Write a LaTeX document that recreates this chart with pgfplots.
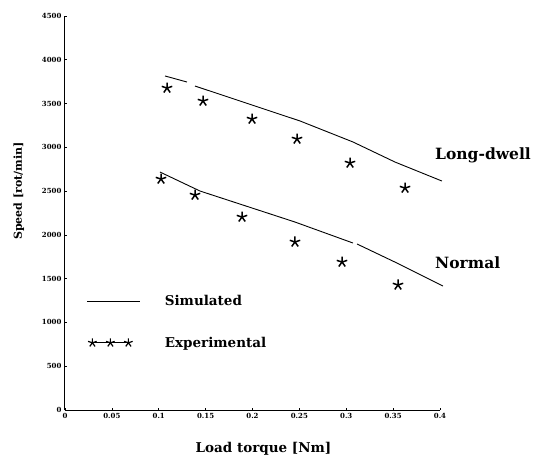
\documentclass[border=0pt]{standalone}
\usepackage{fontspec}
\setmainfont{DejaVu Serif}
\usepackage{pgfplots}
\pgfplotsset{compat=1.18}
\pgfplotsset{
  simlegend/.style={legend image code/.code={\draw[##1] (0pt,0pt) -- (53pt,0pt);}},
  explegend/.style={legend image code/.code={\draw[##1, mark=star, mark size=4.5pt, mark options={line width=1.2pt}] plot coordinates {(5pt,0pt) (23pt,0pt) (41pt,0pt)};}},
}
\begin{document}
\begin{tikzpicture}
\begin{axis}[
  scale only axis, width=375pt, height=394pt,
  xmin=0, xmax=0.4, ymin=0, ymax=4500,
  axis lines=left, axis line style={-, line width=1pt},
  xtick={0,0.05,0.1,0.15,0.2,0.25,0.3,0.35,0.4},
  xticklabels={0,0.05,0.1,0.15,0.2,0.25,0.3,0.35,0.4},
  ytick={0,500,1000,1500,2000,2500,3000,3500,4000,4500},
  yticklabels={0,500,1000,1500,2000,2500,3000,3500,4000,4500},
  tick align=inside, major tick length=2.5pt,
  tick style={black, line width=0.6pt},
  tick label style={font=\bfseries\fontsize{7}{8}\selectfont},
  /pgf/number format/assume math mode=true,
  xlabel={Load torque [Nm]}, ylabel={Speed [rot/min]},
  xlabel style={font=\bfseries\fontsize{13.5}{15}\selectfont, yshift=-17pt, xshift=11pt},
  ylabel style={font=\bfseries\fontsize{11}{13}\selectfont, yshift=11pt, xshift=22pt},
  clip=false,
  legend style={draw=none, fill=none, at={(axis cs:0.02,1360)}, anchor=north west,
    row sep=26pt, font=\bfseries\fontsize{13.5}{15}\selectfont,
    /tikz/every odd column/.append style={column sep=22pt}},
  legend cell align=left,
]
\addlegendimage{black, line width=0.9pt, simlegend}
\addlegendentry{Simulated}
\addlegendimage{black, line width=0.8pt, explegend}
\addlegendentry{Experimental}

% Long-dwell simulated
\addplot[black, line width=0.9pt, forget plot] coordinates {(0.1067,3815) (0.1301,3746)};
\addplot[black, line width=0.9pt, forget plot] coordinates {(0.1387,3700) (0.2507,3301) (0.3072,3061) (0.352,2832) (0.4021,2615)};
% Normal simulated
\addplot[black, line width=0.9pt, forget plot] coordinates {(0.1013,2718) (0.144,2501) (0.2453,2147) (0.3072,1907)};
\addplot[black, line width=0.9pt, forget plot] coordinates {(0.3115,1896) (0.354,1679) (0.4032,1416)};
% Experimental
\addplot[black, only marks, mark=star, mark size=5.5pt, line width=1.5pt, forget plot] coordinates {
 (0.1088,3677) (0.1472,3529) (0.1995,3323) (0.2475,3095) (0.304,2821) (0.3627,2535)};
\addplot[black, only marks, mark=star, mark size=5.5pt, line width=1.5pt, forget plot] coordinates {
 (0.1024,2638) (0.1387,2455) (0.1888,2204) (0.2453,1919) (0.2955,1690) (0.3552,1428)};

\node[anchor=west, font=\bfseries\fontsize{15.5}{17}\selectfont, inner sep=0pt] at (axis cs:0.3947,2912) {Long-dwell};
\node[anchor=west, font=\bfseries\fontsize{15.5}{17}\selectfont, inner sep=0pt] at (axis cs:0.3947,1679) {Normal};
\end{axis}
\pgfresetboundingbox
\path[use as bounding box] (-65pt,-51pt) rectangle (470pt,410pt);
\end{tikzpicture}
\end{document}
